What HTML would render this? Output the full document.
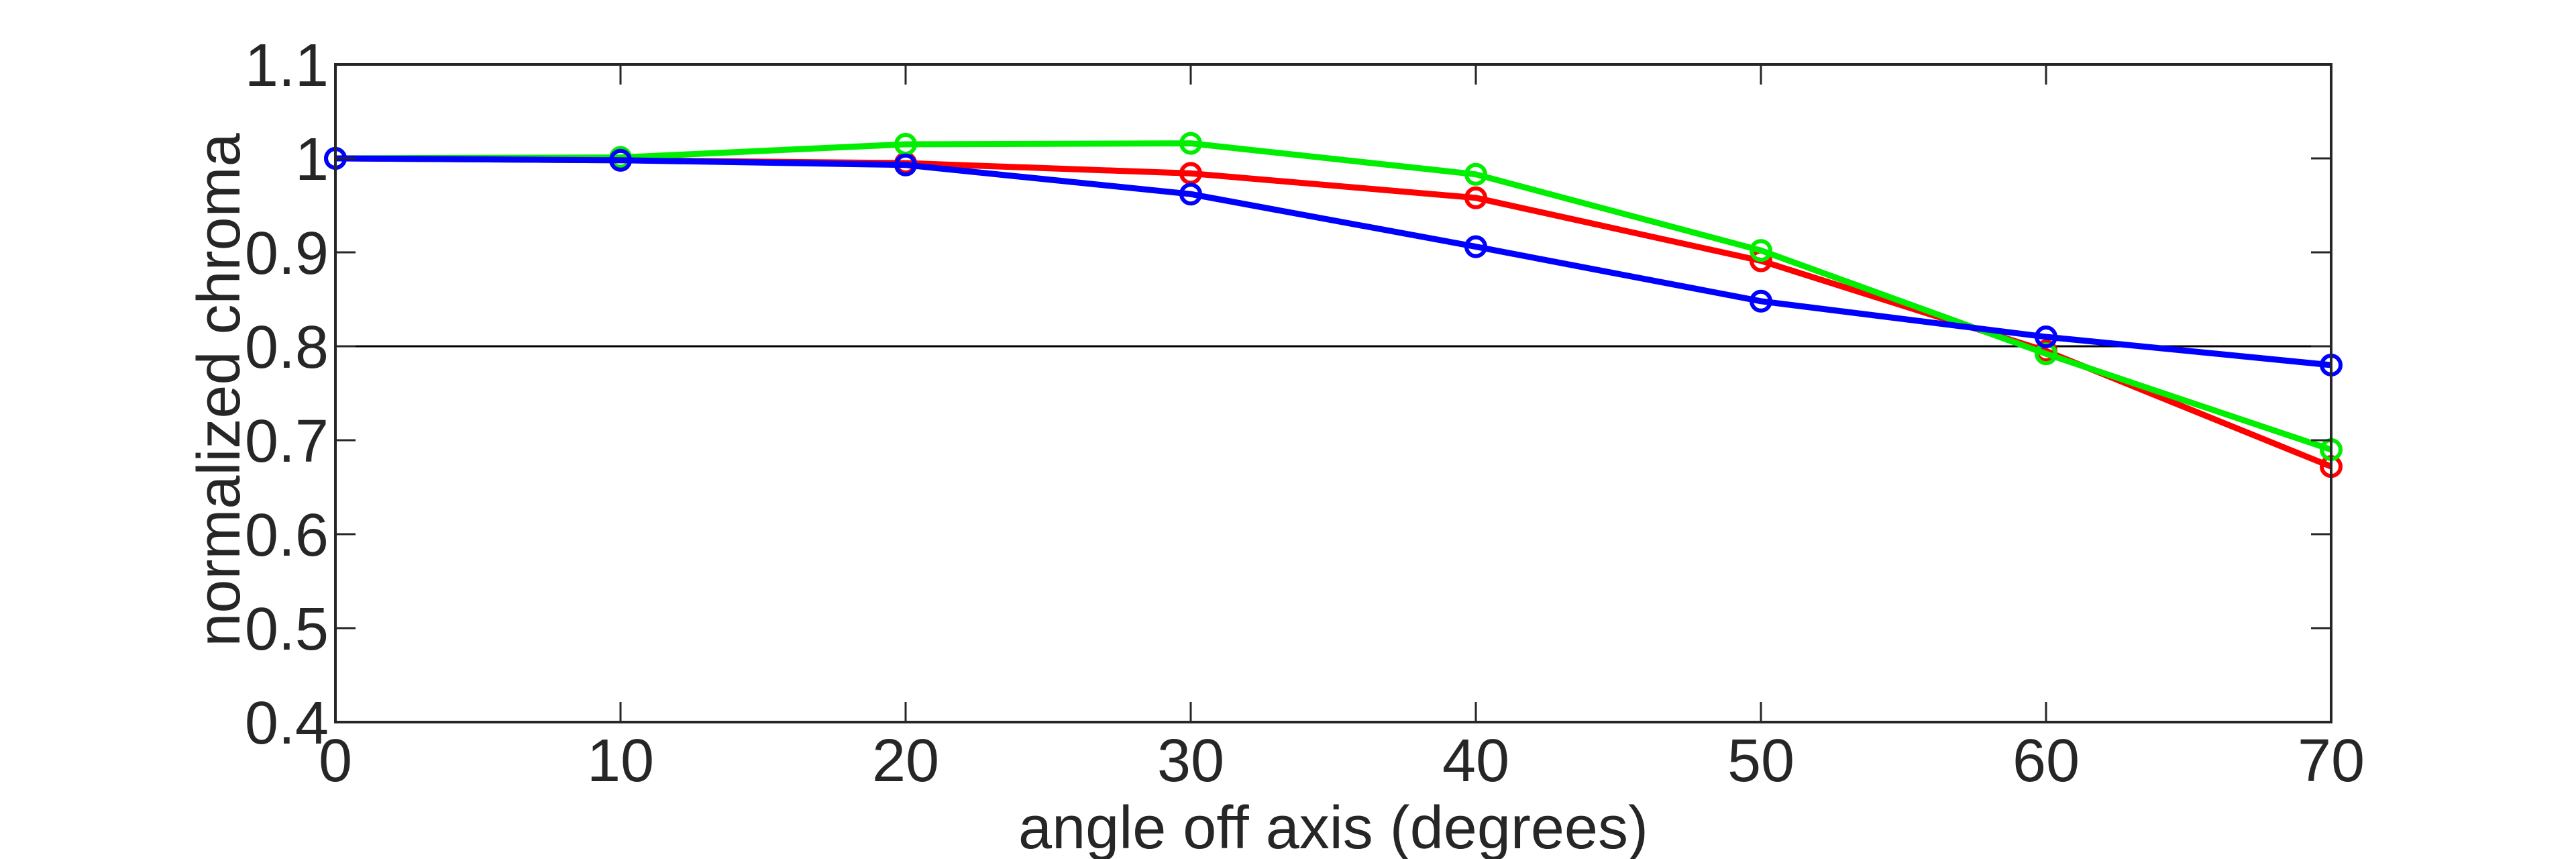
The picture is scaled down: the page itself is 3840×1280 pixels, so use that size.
<!DOCTYPE html>
<html><head><meta charset="utf-8"><style>
html,body{margin:0;padding:0;background:#fff;}
svg{display:block;font-family:"Liberation Sans",Arial,sans-serif;}
</style></head><body>
<svg id="chart" width="3840" height="1280" viewBox="0 0 3840 1280">
<rect width="3840" height="1280" fill="#fff"/>
<g id="grid"></g>
<g id="series"></g>
<g id="axes"></g>
</svg>
<script>
const xValues = [0,10,20,30,40,50,60,70];
const redValues = [1,0.998,0.995,0.984,0.958,0.891,0.795,0.672];
const greenValues = [1,1.001,1.015,1.016,0.983,0.902,0.792,0.690];
const blueValues = [1,0.998,0.993,0.962,0.906,0.848,0.810,0.780];
const xTicks = [0,10,20,30,40,50,60,70];
const yTicks = [0.4,0.5,0.6,0.7,0.8,0.9,1,1.1];
const yTickLabels = ["0.4","0.5","0.6","0.7","0.8","0.9","1","1.1"];
const refLineValue = 0.8;

const L=500,R=3475,T=96,B=1076;
const X=v=>L+(v-0)/(70-0)*(R-L);
const Y=v=>B-(v-0.4)/(1.1-0.4)*(B-T);
const NS="http://www.w3.org/2000/svg";
function mk(tag,attrs,parent){const e=document.createElementNS(NS,tag);for(const k in attrs)e.setAttribute(k,attrs[k]);parent.appendChild(e);return e;}
const axes=document.getElementById('axes'), series=document.getElementById('series'), grid=document.getElementById('grid');

let ref=mk('line',{x1:L,x2:R,y1:Y(refLineValue),y2:Y(refLineValue),stroke:'#000','stroke-width':3},grid);



const cols=[['red-series','#ff0000',redValues],['green-series','#00ee00',greenValues],['blue-series','#0000ff',blueValues]];
cols.forEach(([name,c,vals])=>{
  const g=mk('g',{},series);
  
  
  const pl=mk('polyline',{points:vals.map((v,i)=>X(xValues[i])+','+Y(v)).join(' '),fill:'none',stroke:c,'stroke-width':9,'stroke-linejoin':'round'},g);
  
  
  vals.forEach((v,i)=>{
    const m=mk('circle',{cx:X(xValues[i]),cy:Y(v),r:14,fill:'none',stroke:c,'stroke-width':6},g);
    
    
  });
});

const frame=mk('rect',{x:L,y:T,width:R-L,height:B-T,fill:'none',stroke:'#262626','stroke-width':4},axes);


const TL=30;
xTicks.forEach(v=>{
  const x=X(v);
  mk('line',{x1:x,x2:x,y1:B,y2:B-TL,stroke:'#262626','stroke-width':3},axes);
  mk('line',{x1:x,x2:x,y1:T,y2:T+TL,stroke:'#262626','stroke-width':3},axes);
  const t=mk('text',{x:x,y:1164,'text-anchor':'middle','font-size':90,fill:'#262626'},axes);
  t.textContent=String(v);
  
  
});
yTicks.forEach((v,i)=>{
  const y=Y(v);
  mk('line',{x1:L,x2:L+TL,y1:y,y2:y,stroke:'#262626','stroke-width':3},axes);
  mk('line',{x1:R,x2:R-TL,y1:y,y2:y,stroke:'#262626','stroke-width':3},axes);
  const t=mk('text',{x:L-10,y:y+32,'text-anchor':'end','font-size':90,fill:'#262626'},axes);
  t.textContent=yTickLabels[i];
  
  
});
const xt=mk('text',{x:(L+R)/2,y:1264,'text-anchor':'middle','font-size':90,fill:'#262626'},axes);
xt.textContent='angle off axis (degrees)';


const yt=mk('text',{x:0,y:0,'text-anchor':'middle','font-size':90,fill:'#262626',transform:'translate(357,'+((T+B)/2-5)+') rotate(-90)'},axes);
yt.textContent='normalized chroma';


</script>
</body></html>
